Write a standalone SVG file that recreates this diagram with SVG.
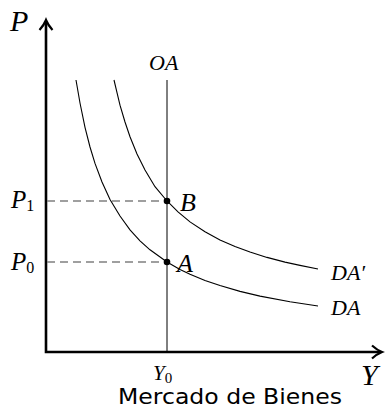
<svg xmlns="http://www.w3.org/2000/svg" width="389" height="408" viewBox="0 0 389 408">
<style>
.m{font-family:"Liberation Serif","DejaVu Serif",serif;font-style:italic;fill:#000}
.r{font-family:"Liberation Serif","DejaVu Serif",serif;fill:#000}
.c{fill:none;stroke:#000;stroke-width:1.1}
.d{fill:none;stroke:#808080;stroke-width:1.6;stroke-dasharray:8,5}
</style>
<rect width="389" height="408" fill="#fff"/>
<g id="axes">
<path d="M46,22 V352 H380" fill="none" stroke="#000" stroke-width="2.6"/>
<path d="M39.5,30 Q44,25 46,20 Q48,25 52.5,30" fill="none" stroke="#000" stroke-width="2.2"/>
<path d="M372,345.5 Q377,350 382,352 Q377,354 372,358.5" fill="none" stroke="#000" stroke-width="2.2"/>
<text class="m" x="10" y="31" font-size="30">P</text>
<text class="m" x="361" y="385" font-size="30">Y</text>
</g>
<g id="connectors">
<line class="d" x1="47" y1="201" x2="167" y2="201"/>
<line class="d" x1="47" y1="262" x2="167" y2="262"/>
</g>
<g id="OA">
<line x1="167" y1="80" x2="167" y2="352" stroke="#000" stroke-width="1"/>
<text class="m" x="149" y="70" font-size="22">OA</text>
</g>
<g id="DA">
<polyline class="c" points="76,80 80,103 85,127.3 90,147 95,163.4 102,182 110,199.5 120,216 130,229.9 140,240.8 150,249.8 167,262 180,269.4 190,274.2 205,280.5 220,285.6 240,291.4 260,296.1 290,301.8 318,306"/>
<text class="m" x="331" y="315" font-size="22">DA</text>
</g>
<g id="DAp">
<polyline class="c" points="114,80 117,92.7 120,105.2 125,122 130,136.8 137,154 145,170 155,186.7 167,201 178,211.9 190,221.9 205,231.7 220,239.9 235,246.4 250,252 267,257.4 285,262.1 300,265.4 318,269"/>
<text class="m" x="331" y="280" font-size="22">DA′</text>
</g>
<g id="B">
<circle cx="167" cy="201" r="3.3" fill="#000"/>
<text class="m" x="180" y="211" font-size="26">B</text>
</g>
<g id="A">
<circle cx="167" cy="262" r="3.3" fill="#000"/>
<text class="m" x="177" y="272" font-size="26">A</text>
</g>
<g id="P1">
<text class="m" x="11" y="208" font-size="25">P<tspan class="r" font-style="normal" font-size="16" dy="3">1</tspan></text>
</g>
<g id="P0">
<text class="m" x="11" y="270" font-size="25">P<tspan class="r" font-style="normal" font-size="16" dy="3">0</tspan></text>
</g>
<g id="Y0">
<text class="m" x="153" y="380" font-size="21">Y<tspan class="r" font-style="normal" font-size="15" dy="3">0</tspan></text>
</g>
<text x="118" y="404" font-size="22" textLength="224" lengthAdjust="spacingAndGlyphs" font-family="DejaVu Sans, sans-serif">Mercado de Bienes</text>
</svg>
